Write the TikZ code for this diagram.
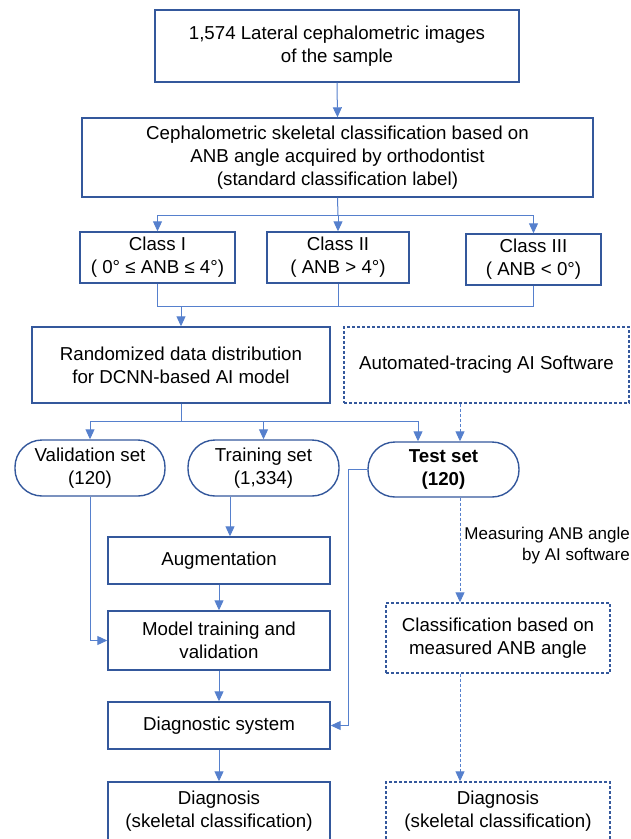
\documentclass[tikz,border=0pt]{standalone}
\usepackage{fontspec}
\setmainfont{Liberation Sans}
\usepackage{tikz}
\usetikzlibrary{arrows.meta}

\definecolor{boxblue}{RGB}{52,88,156}
\definecolor{linkblue}{RGB}{86,128,205}

\tikzset{
  stage/.style={draw=boxblue,line width=1.4pt,rectangle,align=center,inner sep=0pt,
    font=\fontsize{18.7}{23}\selectfont},
  aibox/.style={stage,dash pattern=on 3pt off 2pt},
  setpill/.style={stage,rounded corners=27pt},
  link/.style={draw=linkblue,line width=1pt},
  arr/.style={link,-{Triangle[length=10pt,width=9pt]}},
  darr/.style={arr,dash pattern=on 3pt off 2pt},
}

\begin{document}
\begin{tikzpicture}[x=1pt,y=-1pt]
\useasboundingbox (0,0) rectangle (630,839);
\clip (0,0) rectangle (630,839);

\node[stage,minimum width=364pt,minimum height=72pt] (img) at (337,46)
  {1,574 Lateral cephalometric images\\of the sample};
\node[stage,minimum width=511pt,minimum height=79pt] (cls) at (337.5,157.5)
  {Cephalometric skeletal classification based on\\ANB angle acquired by orthodontist\\(standard classification label)};

\node[stage,minimum width=155pt,minimum height=51pt] (c1) at (157.5,257.5)
  {Class I\\( 0° ≤ ANB ≤ 4°)};
\node[stage,minimum width=142pt,minimum height=51pt] (c2) at (338,257.5)
  {Class II\\( ANB > 4°)};
\node[stage,minimum width=135pt,minimum height=51pt] (c3) at (533.5,259.5)
  {Class III\\( ANB < 0°)};

\node[stage,minimum width=298pt,minimum height=76pt] (rand) at (181,365)
  {Randomized data distribution\\for DCNN-based AI model};
\node[aibox,minimum width=285pt,minimum height=76pt] (auto) at (486.5,365)
  {Automated-tracing AI Software};

\node[setpill,minimum width=150pt,minimum height=56pt] (val) at (90,468)
  {Validation set\\(120)};
\node[setpill,minimum width=151pt,minimum height=56pt] (train) at (263.5,468)
  {Training set\\(1,334)};
\node[setpill,minimum width=151pt,minimum height=55pt,font=\fontsize{18.7}{23}\selectfont\bfseries] (test) at (443.5,469.5)
  {Test set\\(120)};

\node[stage,minimum width=222pt,minimum height=47pt] (aug) at (219,560.5) {Augmentation};
\node[stage,minimum width=222pt,minimum height=59pt] (model) at (219,640.5)
  {Model training and\\validation};
\node[stage,minimum width=222pt,minimum height=47pt] (diagsys) at (219,725.5) {Diagnostic system};
\node[stage,minimum width=222pt,minimum height=58pt] (diag) at (219,811)
  {Diagnosis\\(skeletal classification)};

\node[aibox,minimum width=224pt,minimum height=70pt] (clsm) at (498,638)
  {Classification based on\\measured ANB angle};
\node[aibox,minimum width=224pt,minimum height=58pt] (diag2) at (498,811)
  {Diagnosis\\(skeletal classification)};

\coordinate (br1) at (338,215);
\coordinate (mg) at (181,306);
\coordinate (sp) at (181,421);

\draw[arr] (img.south) -- (cls.north);
\draw[link] (cls.south) -- (br1);
\draw[arr] (br1) -| (c1.north);
\draw[arr] (br1) -- (c2.north);
\draw[arr] (br1) -| (c3.north);

\draw[link] (c1.south) |- (mg);
\draw[link] (c2.south) |- (mg);
\draw[link] (c3.south) |- (mg);
\draw[arr] (mg) -- (rand.north);

\draw[link] (rand.south) -- (sp);
\draw[arr] (sp) -| (val.north);
\draw[arr] (sp) -| (train.north);
\draw[arr] (sp) -| ([xshift=-25.5pt]test.north);
\draw[darr] ([xshift=16.5pt]test.north |- auto.south) -- ([xshift=16.5pt]test.north);

\draw[arr] ([xshift=-33.5pt]train.south) -- ([xshift=-33.5pt]train.south |- aug.north);
\draw[arr] (aug) -- (model);
\draw[arr] (model) -- (diagsys);
\draw[arr] (diagsys) -- (diag);
\draw[arr] (val.south) |- (model.west);
\draw[arr] (test.west) -- ++(-19,0) |- (diagsys.east);

\draw[darr] ([xshift=16.5pt]test.south) -- ([xshift=16.5pt]test.south |- clsm.north);
\node[align=right,anchor=east,inner sep=0pt,font=\fontsize{17}{21}\selectfont] (measure) at (630,546)
  {Measuring ANB angle\\by AI software};
\draw[darr] (clsm.south -| test.south) ++(16.5,0) -- ([xshift=16.5pt]test.south |- diag2.north);
\end{tikzpicture}
\end{document}
